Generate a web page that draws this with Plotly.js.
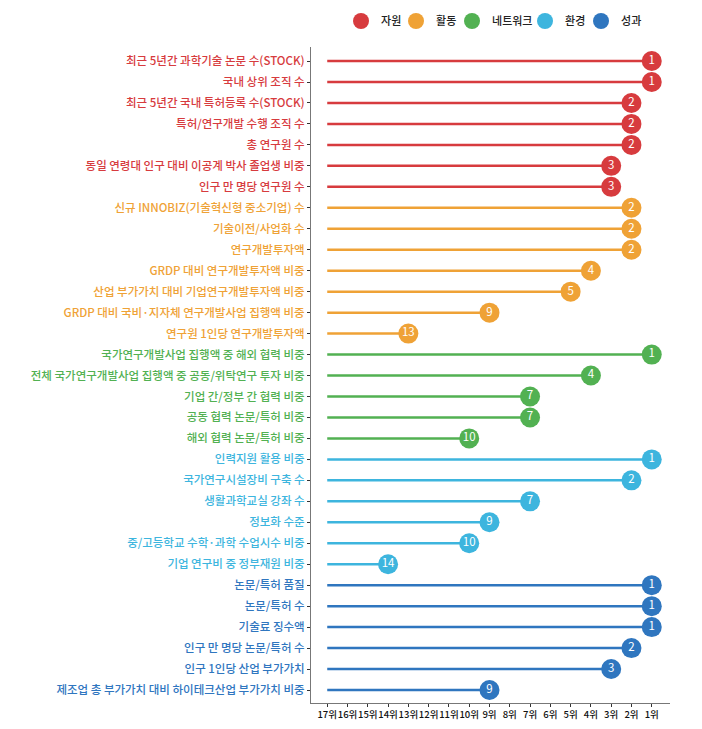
<!DOCTYPE html>
<html>
<head>
<meta charset="utf-8">
<script src="https://cdn.plot.ly/plotly-3.0.1.min.js"></script>
<style>html,body{margin:0;padding:0;background:#fff;}#chart{width:702px;height:729px;}</style>
</head>
<body>
<div id="chart"></div>
<script>
const groups = ["자원", "활동", "네트워크", "환경", "성과"];
const groupColors = ["#d73b3e", "#efa236", "#52b152", "#3db5de", "#2f76bf"];

const indicators = [
  "최근 5년간 과학기술 논문 수(STOCK)",
  "국내 상위 조직 수",
  "최근 5년간 국내 특허등록 수(STOCK)",
  "특허/연구개발 수행 조직 수",
  "총 연구원 수",
  "동일 연령대 인구 대비 이공계 박사 졸업생 비중",
  "인구 만 명당 연구원 수",
  "신규 INNOBIZ(기술혁신형 중소기업) 수",
  "기술이전/사업화 수",
  "연구개발투자액",
  "GRDP 대비 연구개발투자액 비중",
  "산업 부가가치 대비 기업연구개발투자액 비중",
  "GRDP 대비 국비·지자체 연구개발사업 집행액 비중",
  "연구원 1인당 연구개발투자액",
  "국가연구개발사업 집행액 중 해외 협력 비중",
  "전체 국가연구개발사업 집행액 중 공동/위탁연구 투자 비중",
  "기업 간/정부 간 협력 비중",
  "공동 협력 논문/특허 비중",
  "해외 협력 논문/특허 비중",
  "인력지원 활용 비중",
  "국가연구시설장비 구축 수",
  "생활과학교실 강좌 수",
  "정보화 수준",
  "중/고등학교 수학·과학 수업시수 비중",
  "기업 연구비 중 정부재원 비중",
  "논문/특허 품질",
  "논문/특허 수",
  "기술료 징수액",
  "인구 만 명당 논문/특허 수",
  "인구 1인당 산업 부가가치",
  "제조업 총 부가가치 대비 하이테크산업 부가가치 비중"
];
const indicatorGroup = [
  0,0,0,0,0,0,0,
  1,1,1,1,1,1,1,
  2,2,2,2,2,
  3,3,3,3,3,3,
  4,4,4,4,4,4
];
const ranks = [
  1,1,2,2,2,3,3,
  2,2,2,4,5,9,13,
  1,4,7,7,10,
  1,2,7,9,10,14,
  1,1,1,2,3,9
];
const rankTicks = [17,16,15,14,13,12,11,10,9,8,7,6,5,4,3,2,1];
const rankTickLabels = rankTicks.map(r => r + "위");
const baseRank = 17;
const legendWidths = [10, 11, 28, 11, 22];

const traces = [];
groups.forEach((g, gi) => {
  const lx = [], ly = [];
  const mx = [], my = [], mt = [];
  indicators.forEach((name, i) => {
    if (indicatorGroup[i] !== gi) return;
    lx.push(baseRank, ranks[i], null);
    ly.push(i, i, null);
    mx.push(ranks[i]); my.push(i); mt.push(String(ranks[i]));
  });
  traces.push({
    type: "scatter", mode: "lines", x: lx, y: ly,
    line: {color: groupColors[gi], width: 2.5},
    showlegend: false, hoverinfo: "skip", cliponaxis: false
  });
  traces.push({
    type: "scatter", mode: "markers+text", name: g, x: mx, y: my, text: mt,
    textposition: "middle center",
    textfont: {color: "#ffffff", size: 11.5, family: "Noto Sans CJK KR, sans-serif"},
    marker: {color: groupColors[gi], size: 20, line: {width: 0}},
    legendwidth: legendWidths[gi],
    cliponaxis: false
  });
});

const tickText = indicators.map((t, i) =>
  '<span style="color:' + groupColors[indicatorGroup[i]] + '">' + t + '</span>');

const layout = {
  width: 702, height: 729,
  margin: {l: 311, r: 32, t: 47, b: 26, autoexpand: false},
  paper_bgcolor: "#ffffff", plot_bgcolor: "#ffffff",
  font: {family: "Noto Sans CJK KR, sans-serif", color: "#222"},
  showlegend: true,
  legend: {
    orientation: "h", x: 0.0836, xanchor: "left", y: 1.0396, yanchor: "middle",
    font: {size: 11, color: "#222", weight: 500},
    traceorder: "normal", tracegroupgap: 0
  },
  xaxis: {
    range: [17.8, 0.1], tickvals: rankTicks, ticktext: rankTickLabels, tickangle: 0,
    showgrid: false, zeroline: false, showline: true, linecolor: "#777", linewidth: 1,
    ticks: "outside", ticklen: 3, tickcolor: "#333",
    tickfont: {size: 9.5, color: "#111", weight: 500}, fixedrange: true
  },
  yaxis: {
    range: [30.62, -0.67], tickvals: indicators.map((_, i) => i), ticktext: tickText,
    showgrid: false, zeroline: false, showline: true, linecolor: "#777", linewidth: 1,
    ticks: "outside", ticklen: 3, tickcolor: "#333",
    tickfont: {size: 11.5, weight: 500}, fixedrange: true
  }
};

Plotly.newPlot("chart", traces, layout, {displayModeBar: false, staticPlot: true});
</script>
</body>
</html>
